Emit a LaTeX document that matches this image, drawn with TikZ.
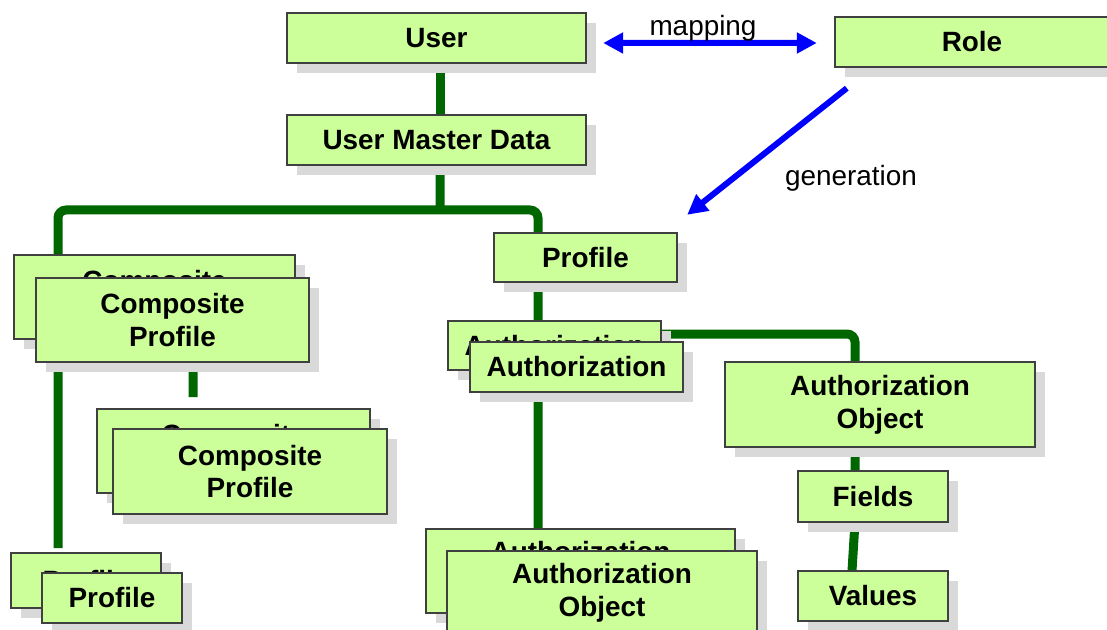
\documentclass[tikz,border=0pt]{standalone}
\usepackage{fontspec}
\setmainfont{Liberation Sans}
\usetikzlibrary{arrows.meta,shadows}
\definecolor{boxfill}{RGB}{204,255,153}
\definecolor{boxline}{RGB}{64,64,64}
\definecolor{linkgreen}{RGB}{0,102,0}
\definecolor{shade}{RGB}{217,217,217}
\begin{document}
\begin{tikzpicture}[x=1bp,y=-1bp,
  box/.style={draw=boxline, line width=1.5bp, fill=boxfill, align=center,
    inner sep=0pt, font=\bfseries\fontsize{28}{33}\selectfont,
    drop shadow={shadow xshift=10bp, shadow yshift=-10bp, fill=shade, opacity=1}},
  link/.style={draw=linkgreen, line width=9bp, rounded corners=8bp},
  rel/.style={draw=blue, line width=6bp},
  tip/.tip={Triangle[length=20bp,width=20bp]},
  lbl/.style={font=\fontsize{28}{33}\selectfont, inner sep=0pt}]
\useasboundingbox (0,0) rectangle (1107,630);
\clip (0,0) rectangle (1107,630);

% anchor points for the tree branches
\coordinate (split) at (440,210);
\coordinate (leftend) at (58,548);
\coordinate (compstub) at (193,397);

% boxes are placed first (invisible) so links can refer to them
\begin{scope}[every node/.style={inner sep=0pt}]
\path
  (436.5,38)  node[minimum width=299bp, minimum height=50bp] (user) {}
  (972,42)    node[minimum width=274bp, minimum height=50bp] (role) {}
  (436.5,140) node[minimum width=299bp, minimum height=50bp] (umd) {}
  (585.5,257.5) node[minimum width=183bp, minimum height=49bp] (prof) {}
  (172.5,320) node[minimum width=273bp, minimum height=84bp] (compA) {}
  (554.5,345.5) node[minimum width=213bp, minimum height=49bp] (authB) {}
  (880,404.5) node[minimum width=310bp, minimum height=85bp] (aobR) {}
  (873,496.5) node[minimum width=150bp, minimum height=51bp] (fields) {}
  (873,596)   node[minimum width=150bp, minimum height=50bp] (values) {}
  (580.5,571) node[minimum width=309bp, minimum height=84bp] (aobB) {};
\end{scope}

% green hierarchy links
\draw[link] ([xshift=3.5bp]user.south) -- ([xshift=3.5bp]umd.north);
\draw[link] ([xshift=3.5bp]umd.south) -- (split);
\draw[link] (leftend) |- (split) -| ([xshift=-47.5bp]prof.north);
\draw[link] ([xshift=-47.5bp]prof.south) -- ([xshift=-42.5bp]aobB.north);
\draw[link] ([yshift=11.5bp]authB.east) -| ([xshift=-25bp]aobR.north);
\draw[link] ([xshift=-25bp]aobR.south) -- ([xshift=-18bp]fields.north);
\draw[link] ([xshift=-18bp]fields.south) -- ([xshift=-21bp]values.north);
\draw[link] ([xshift=20.5bp]compA.south) -- (compstub);

% boxes
\node[box, minimum width=299bp, minimum height=50bp] at (user) {User};
\node[box, minimum width=274bp, minimum height=50bp] at (role) {Role};
\node[box, minimum width=299bp, minimum height=50bp] at (umd) {User Master Data};
\node[box, minimum width=183bp, minimum height=49bp] at (prof) {Profile};

\node[box, minimum width=281bp, minimum height=84bp] (compB) at (154.5,297) {Composite\\Profile};
\node[box, minimum width=273bp, minimum height=84bp] at (compA) {Composite\\Profile};

\node[box, minimum width=273bp, minimum height=84bp] (comp2B) at (233.5,451) {Composite\\Profile};
\node[box, minimum width=274bp, minimum height=85bp] (comp2A) at (250,471.5) {Composite\\Profile};

\node[box, minimum width=150bp, minimum height=55bp] (plB) at (86,580.5) {Profile};
\node[box, minimum width=140bp, minimum height=50bp] (plA) at (112,598) {Profile};

\node[box, minimum width=213bp, minimum height=49bp] at (authB) {Authorization};
\node[box, minimum width=213bp, minimum height=50bp] (authA) at (576.5,367) {Authorization};

\node[box, minimum width=310bp, minimum height=85bp] at (aobR) {Authorization\\Object};
\node[box, minimum width=150bp, minimum height=51bp] at (fields) {Fields};
\node[box, minimum width=150bp, minimum height=50bp] at (values) {Values};

\node[box, minimum width=309bp, minimum height=84bp] at (aobB) {Authorization\\Object};
\node[box, minimum width=310bp, minimum height=84bp] (aobA) at (602,593) {Authorization\\Object};

% role relations
\draw[rel, tip-tip] ([shift={(17bp,-5bp)}]user.east) -- ([shift={(-18bp,-1bp)}]role.west);
\node[lbl] (maplbl) at (703,28) {mapping};
\draw[rel, -tip] ([shift={(12bp,-21bp)}]role.south west) -- ([shift={(10bp,18bp)}]prof.north east);
\node[lbl] (genlbl) at (851,178) {generation};
\end{tikzpicture}
\end{document}
